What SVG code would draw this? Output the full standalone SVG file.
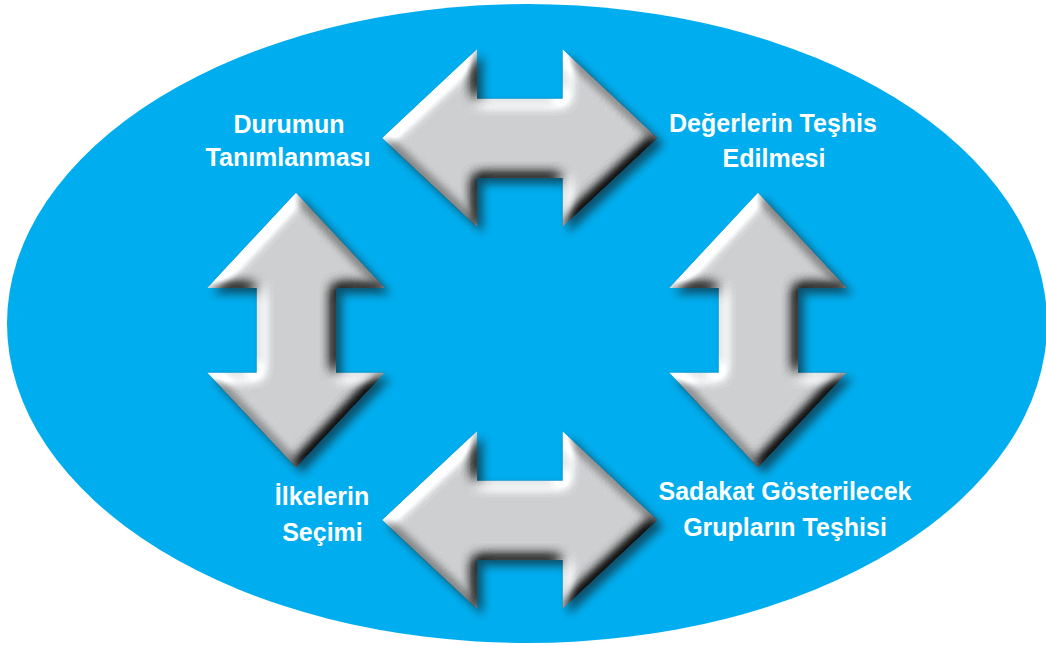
<svg xmlns="http://www.w3.org/2000/svg" width="1046" height="645" viewBox="0 0 1046 645">
  <style>
    .lbl { font-family: "Liberation Sans", Arial, sans-serif; font-weight: bold; font-size: 25px; fill: #ffffff; text-anchor: middle; }
    .arrow { fill: #D1D3D4; filter: url(#bevel); }
  </style>
  <defs>
    <filter id="bevel" x="-20%" y="-20%" width="145%" height="145%" color-interpolation-filters="sRGB">
      <feGaussianBlur in="SourceAlpha" stdDeviation="7" result="blur"/>
      <feDiffuseLighting in="blur" surfaceScale="9" diffuseConstant="1" lighting-color="#ffffff" result="light">
        <feDistantLight azimuth="225" elevation="50"/>
      </feDiffuseLighting>
      <feComposite in="SourceGraphic" in2="light" operator="arithmetic" k1="1.25" k2="0" k3="0" k4="0.02" result="lit"/>
      <feComposite in="lit" in2="SourceAlpha" operator="in" result="face"/>
      <feGaussianBlur in="SourceAlpha" stdDeviation="5" result="sb"/>
      <feOffset in="sb" dx="6" dy="6" result="sOff"/>
      <feFlood flood-color="#10303e" flood-opacity="0.75"/>
      <feComposite in2="sOff" operator="in" result="shadow"/>
      <feMerge>
        <feMergeNode in="shadow"/>
        <feMergeNode in="face"/>
      </feMerge>
    </filter>
  </defs>

  <ellipse id="background" cx="527" cy="323.5" rx="520" ry="319.5" fill="#00AEEF"/>

  <g id="connectors">
    <path id="arrow-top" class="arrow" d="M382,138 L477,49 L477,98.5 L562.5,98.5 L562.5,49 L657.5,138 L562.5,227 L562.5,178 L477,178 L477,227 Z"/>
    <path id="arrow-bottom" class="arrow" d="M382,520 L477,431 L477,480.5 L562.5,480.5 L562.5,431 L657.5,520 L562.5,609 L562.5,560 L477,560 L477,609 Z"/>
    <path id="arrow-left" class="arrow" d="M296,192.5 L385,288 L336,288 L336,372.5 L385,372.5 L296,467.5 L207,372.5 L256.5,372.5 L256.5,288 L207,288 Z"/>
    <path id="arrow-right" class="arrow" d="M758,192.5 L847,288 L798,288 L798,372.5 L847,372.5 L758,467.5 L669,372.5 L718.5,372.5 L718.5,288 L669,288 Z"/>
  </g>

  <g id="node-durumun">
    <text class="lbl" x="289" y="132.5">Durumun</text>
    <text class="lbl" x="288" y="166">Tanımlanması</text>
  </g>
  <g id="node-degerler">
    <text class="lbl" x="773" y="132">Değerlerin Teşhis</text>
    <text class="lbl" x="774" y="166.5">Edilmesi</text>
  </g>
  <g id="node-ilkeler">
    <text class="lbl" x="322" y="505">İlkelerin</text>
    <text class="lbl" x="322.5" y="541">Seçimi</text>
  </g>
  <g id="node-sadakat">
    <text class="lbl" x="785" y="500">Sadakat Gösterilecek</text>
    <text class="lbl" x="785" y="536">Grupların Teşhisi</text>
  </g>
</svg>
